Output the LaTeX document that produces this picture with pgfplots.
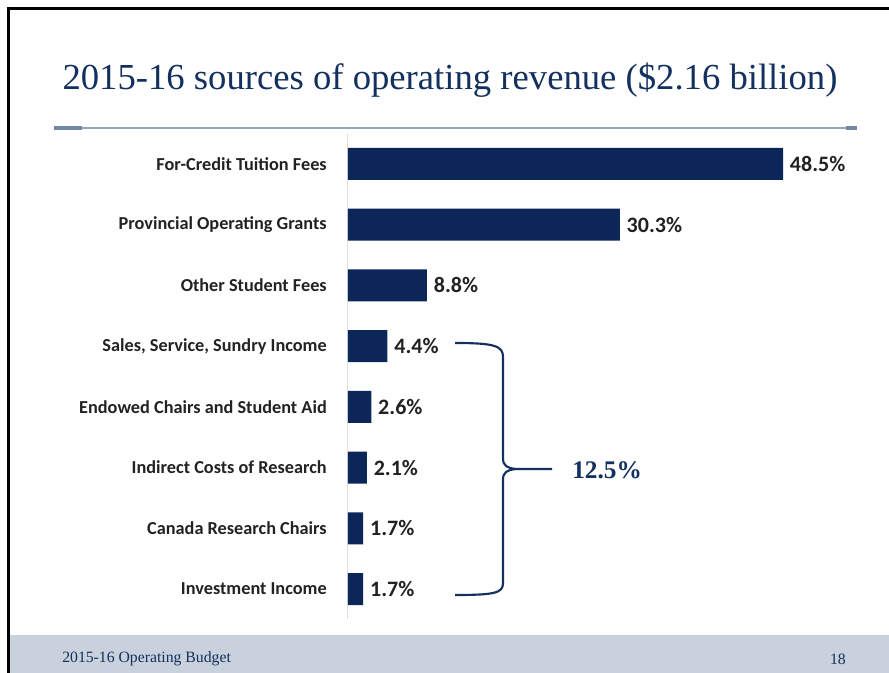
\documentclass[border=0pt]{standalone}
\usepackage{fontspec}
\setmainfont{Liberation Serif}
\newfontfamily\carlito{Carlito}
\usepackage{pgfplots}
\pgfplotsset{compat=1.18}
\definecolor{navy}{HTML}{13305F}
\definecolor{barcol}{HTML}{0C2659}
\definecolor{rulecol}{HTML}{98A6BC}
\definecolor{ruledark}{HTML}{7388A8}
\definecolor{footcol}{HTML}{C9D1DC}
\definecolor{lbl}{HTML}{222222}
\begin{document}
\begin{tikzpicture}[x=0.75pt,y=0.75pt]
\useasboundingbox (0,0) rectangle (889,673);
\fill[white] (0,0) rectangle (889,673);
\fill[footcol] (8,0) rectangle (889,38);
\draw[black, line width=2.25pt] (8.5,0) -- (8.5,664.5) -- (889,664.5);
\node[text=navy, font=\fontsize{27.5}{32}\selectfont, inner sep=0pt] at (450,593) {2015-16 sources of operating revenue (\$2.16 billion)};
\draw[rulecol, line width=1.6pt] (54,545) -- (856,545);
\draw[ruledark, line width=2.4pt] (54,545) -- (82,545);
\draw[ruledark, line width=2.4pt] (846,545) -- (857,545);
\begin{axis}[
  at={(429.1875pt,222.375pt)}, anchor=center,
  xbar, scale only axis, width=336.4pt, height=364.3pt,
  xmin=0, xmax=50, ymin=-0.5, ymax=7.5, y dir=reverse,
  bar width=24pt,
  axis x line=none, axis y line*=left,
  y axis line style={draw=gray!25, line width=0.75pt},
  ytick={0,1,2,3,4,5,6,7},
  yticklabels={For-Credit Tuition Fees, Provincial Operating Grants, Other Student Fees, {Sales, Service, Sundry Income}, Endowed Chairs and Student Aid, Indirect Costs of Research, Canada Research Chairs, Investment Income},
  major tick length=0pt,
  yticklabel style={anchor=east, inner sep=0pt, xshift=-15.75pt, font=\carlito\bfseries\fontsize{13.7}{16}\selectfont, text=lbl},
  point meta=x,
  nodes near coords={\pgfmathprintnumber[fixed,fixed zerofill,precision=1]{\pgfplotspointmeta}\%},
  nodes near coords style={font=\carlito\bfseries\fontsize{16.5}{20}\selectfont, text=lbl, anchor=west, inner sep=0pt, xshift=5pt, /pgf/number format/assume math mode=true},
]
\addplot[fill=barcol, draw=none] coordinates {(48.5,0) (30.3,1) (8.8,2) (4.4,3) (2.6,4) (2.1,5) (1.7,6) (1.7,7)};
\end{axis}
\draw[navy, line width=1.6pt] (455,330) .. controls (495,330) and (503,327) .. (503,316) -- (503,215) .. controls (503,207) and (507,205) .. (516,204) -- (552,204);
\draw[navy, line width=1.6pt] (516,204) .. controls (507,203) and (503,201) .. (503,193) -- (503,90) .. controls (503,80) and (495,78) .. (455,78);
\node[text=navy, font=\bfseries\fontsize{19}{22}\selectfont, anchor=west, inner sep=0pt] at (572,203) {12.5\%};
\node[text=navy, font=\fontsize{11.8}{14}\selectfont, anchor=west, inner sep=0pt] at (62,14) {2015-16 Operating Budget};
\node[text=navy, font=\fontsize{11.8}{14}\selectfont, anchor=east, inner sep=0pt] at (846,14) {18};
\end{tikzpicture}
\end{document}
